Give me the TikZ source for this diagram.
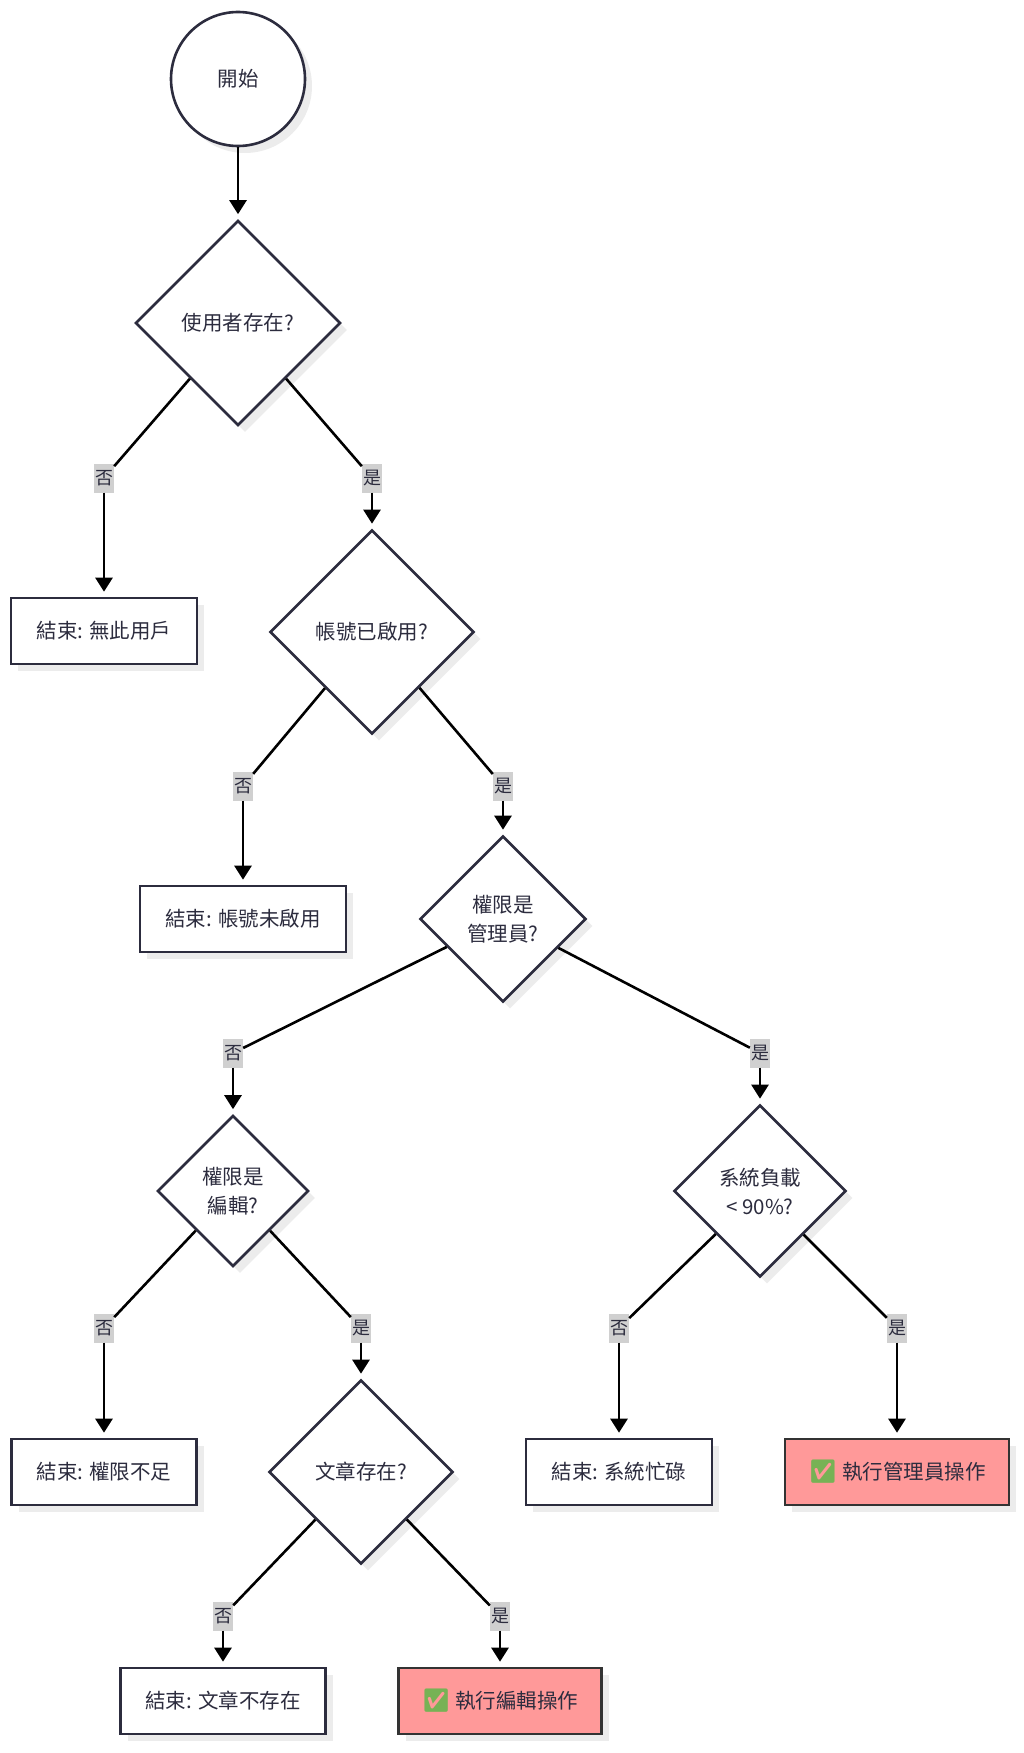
\documentclass[tikz,border=0pt]{standalone}
\usepackage{fontspec}
\setmainfont{Noto Sans CJK TC}
\newfontfamily\emojifont{Noto Emoji}
\usetikzlibrary{shapes.geometric}
\usetikzlibrary{arrows.meta}
\definecolor{inkcolor}{RGB}{44,44,62}
\definecolor{pinkfill}{RGB}{255,153,153}
\definecolor{tagfill}{RGB}{208,208,208}
\definecolor{shadowgray}{RGB}{236,236,236}
\definecolor{checkgreen}{RGB}{119,178,85}
\tikzset{
	shadowstyle/.style={preaction={fill=shadowgray,transform canvas={xshift=7pt,yshift=-7pt}}},
	startstyle/.style={circle,draw=inkcolor,fill=white,line width=2.6pt,shadowstyle,text=inkcolor,minimum size=134pt},
	decisionstyle/.style={diamond,draw=inkcolor,fill=white,line width=2.6pt,shadowstyle,text=inkcolor,align=center,inner sep=0pt},
	endstyle/.style={rectangle,draw=inkcolor,fill=white,line width=2.6pt,shadowstyle,text=inkcolor,minimum height=66pt},
	actionstyle/.style={rectangle,draw=black!80,fill=pinkfill,line width=2.6pt,shadowstyle,text=inkcolor,minimum height=66pt},
	tagstyle/.style={rectangle,fill=tagfill,text=inkcolor,minimum width=20pt,minimum height=29pt,inner sep=1pt,font=\fontsize{18}{18}\selectfont},
	flowstyle/.style={line width=2.6pt,black},
	arrowstyle/.style={flowstyle,-{Triangle[width=17pt,length=14pt]},shorten >=5pt}
}
\newcommand{\checkmark}{{\emojifont\fontsize{23}{23}\selectfont\textcolor{checkgreen}{✅}}}

\begin{document}
\begin{tikzpicture}[x=1pt,y=-1pt,font=\fontsize{20.5}{29}\selectfont]
	\useasboundingbox (0,0) rectangle (1024,1753);
	\node[startstyle] (start) at (238,79) {開始};
	\node[decisionstyle,minimum size=205pt] (user) at (238,323) {使用者存在?};
	\node[endstyle,minimum width=186pt] (nouser) at (104,631) {結束: 無此用戶};
	\node[decisionstyle,minimum size=204pt] (active) at (372,632) {帳號已啟用?};
	\node[endstyle,minimum width=206pt] (inactive) at (243,919) {結束: 帳號未啟用};
	\node[decisionstyle,minimum size=166pt] (admin) at (503,919) {權限是\\管理員?};
	\node[decisionstyle,minimum size=151pt] (editor) at (233,1191) {權限是\\編輯?};
	\node[decisionstyle,minimum size=172pt] (load) at (760,1191) {系統負載\\< 90\%?};
	\node[endstyle,minimum width=185pt] (denied) at (104,1472) {結束: 權限不足};
	\node[decisionstyle,minimum size=184pt] (post) at (361,1472) {文章存在?};
	\node[endstyle,minimum width=186pt] (busy) at (619,1472) {結束: 系統忙碌};
	\node[actionstyle,minimum width=224pt] (adminop) at (897,1472) {\checkmark\ 執行管理員操作};
	\node[endstyle,minimum width=205pt] (nopost) at (223,1701) {結束: 文章不存在};
	\node[actionstyle,minimum width=203pt] (editop) at (500,1701) {\checkmark\ 執行編輯操作};

	\node[tagstyle] (user-no) at (104,478) {否};
	\node[tagstyle] (user-yes) at (372,478) {是};
	\node[tagstyle] (active-no) at (243,786) {否};
	\node[tagstyle] (active-yes) at (503,786) {是};
	\node[tagstyle] (admin-no) at (233,1053) {否};
	\node[tagstyle] (admin-yes) at (760,1053) {是};
	\node[tagstyle] (editor-no) at (104,1328) {否};
	\node[tagstyle] (editor-yes) at (361,1328) {是};
	\node[tagstyle] (load-no) at (619,1328) {否};
	\node[tagstyle] (load-yes) at (897,1328) {是};
	\node[tagstyle] (post-no) at (223,1616) {否};
	\node[tagstyle] (post-yes) at (500,1616) {是};

	\draw[arrowstyle] (start) -- (user);
	\foreach \d/\t/\e in {user/user-no/nouser,user/user-yes/active,
		active/active-no/inactive,active/active-yes/admin,
		admin/admin-no/editor,admin/admin-yes/load,
		editor/editor-no/denied,editor/editor-yes/post,
		load/load-no/busy,load/load-yes/adminop,
		post/post-no/nopost,post/post-yes/editop}
	{
		\draw[flowstyle] (\d) -- (\t);
		\draw[arrowstyle] (\t) -- (\e);
	}
\end{tikzpicture}
\end{document}
